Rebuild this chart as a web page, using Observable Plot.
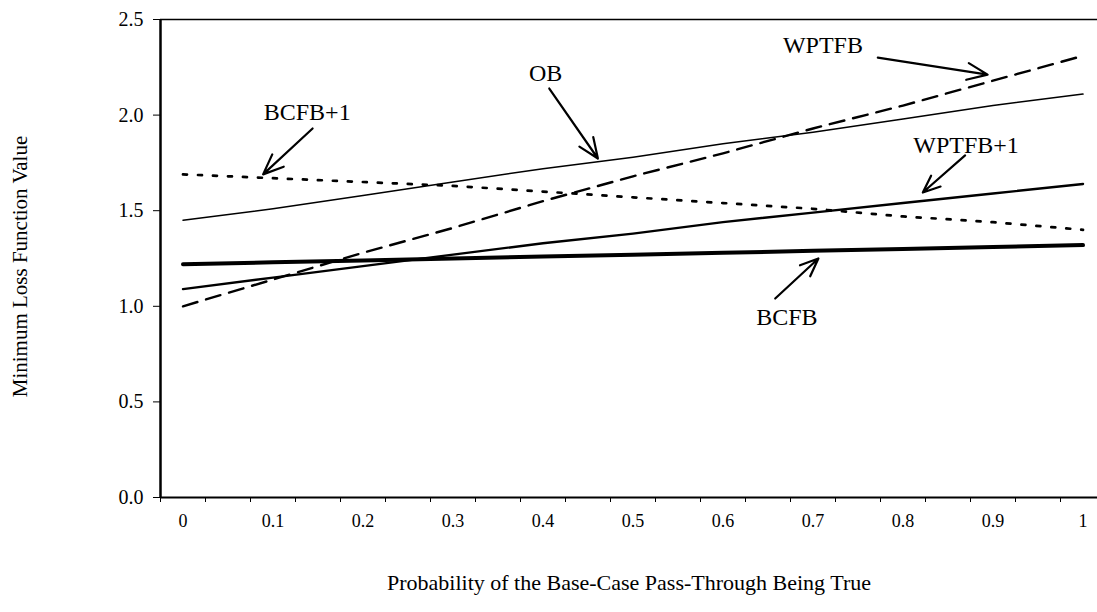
<!DOCTYPE html>
<html>
<head>
<meta charset="utf-8">
<script src="https://cdn.jsdelivr.net/npm/d3@7"></script>
<script src="https://cdn.jsdelivr.net/npm/@observablehq/plot@0.6"></script>
<style>
  html, body { margin: 0; padding: 0; background: white; }
  #chart svg, #chart svg text { font-family: "Liberation Serif", "DejaVu Serif", serif !important; }
</style>
</head>
<body>
<div id="chart"></div>
<script>
// Data
const probabilities = [0, 0.1, 0.2, 0.3, 0.4, 0.5, 0.6, 0.7, 0.8, 0.9, 1];
const OB      = [1.45, 1.51, 1.58, 1.65, 1.72, 1.78, 1.85, 1.91, 1.98, 2.05, 2.11];
const WPTFB   = [1.00, 1.14, 1.28, 1.41, 1.55, 1.68, 1.80, 1.93, 2.05, 2.18, 2.31];
const WPTFB1  = [1.09, 1.15, 1.21, 1.27, 1.33, 1.38, 1.44, 1.49, 1.54, 1.59, 1.64];
const BCFB    = [1.22, 1.23, 1.24, 1.25, 1.26, 1.27, 1.28, 1.29, 1.30, 1.31, 1.32];
const BCFB1   = [1.69, 1.67, 1.65, 1.63, 1.60, 1.57, 1.54, 1.51, 1.47, 1.44, 1.40];

const yTicks = [0, 0.5, 1.0, 1.5, 2.0, 2.5];
const xLabelTicks = [0, 0.1, 0.2, 0.3, 0.4, 0.5, 0.6, 0.7, 0.8, 0.9, 1];
const xTickMarks = [-0.025, 0.025, 0.075, 0.125, 0.175, 0.225, 0.275, 0.325, 0.375, 0.425, 0.475,
                    0.525, 0.575, 0.625, 0.675, 0.725, 0.775, 0.825, 0.875, 0.925, 0.975];

const xTitle = "Probability of the Base-Case Pass-Through Being True";
const yTitle = "Minimum Loss Function Value";

// Annotation labels with arrows (data coordinates)
const annotations = [
  {label: "BCFB+1",   tx: 0.138, ty: 2.014, x1: 0.144, y1: 1.930, x2: 0.089, y2: 1.690},
  {label: "OB",       tx: 0.403, ty: 2.218, x1: 0.407, y1: 2.139, x2: 0.461, y2: 1.773},
  {label: "WPTFB",    tx: 0.711, ty: 2.364, x1: 0.772, y1: 2.301, x2: 0.894, y2: 2.212},
  {label: "WPTFB+1",  tx: 0.870, ty: 1.841, x1: 0.869, y1: 1.789, x2: 0.822, y2: 1.595},
  {label: "BCFB",     tx: 0.671, ty: 0.941, x1: 0.658, y1: 1.041, x2: 0.706, y2: 1.250}
];

const FONT = "Liberation Serif";
const toRows = (vals) => probabilities.map((p, i) => ({x: p, y: vals[i]}));

const chart = Plot.plot({
  width: 1097,
  height: 612,
  marginLeft: 160,
  marginRight: 0,
  marginTop: 19,
  marginBottom: 115,
  x: {domain: [-0.025, 1.0161]},
  y: {domain: [0, 2.5]},
  style: {fontFamily: FONT, color: "black", background: "white"},
  marks: [
    // frame lines
    Plot.ruleY([2.5], {stroke: "black", strokeWidth: 1.5}),
    Plot.ruleX([-0.025], {stroke: "black", strokeWidth: 2.5}),
    Plot.ruleY([0], {stroke: "black", strokeWidth: 2}),
    // axes
    Plot.axisY({ticks: yTicks, tickSize: 7, tickPadding: 10, tickFormat: d => d.toFixed(1), fontSize: 20, fontFamily: FONT, label: null}),
    Plot.axisX({ticks: xTickMarks, tickSize: 5, tickFormat: () => "", label: null}),
    Plot.axisX({ticks: xLabelTicks, tickSize: 0, tickPadding: 17, tickFormat: d => String(d), fontSize: 18, fontFamily: FONT, label: null}),
    // series
    Plot.line(toRows(OB), {x: "x", y: "y", stroke: "black", strokeWidth: 1.5}),
    Plot.line(toRows(WPTFB), {x: "x", y: "y", stroke: "black", strokeWidth: 2.4, strokeDasharray: "15,9"}),
    Plot.line(toRows(WPTFB1), {x: "x", y: "y", stroke: "black", strokeWidth: 2.4}),
    Plot.line(toRows(BCFB), {x: "x", y: "y", stroke: "black", strokeWidth: 4}),
    Plot.line(toRows(BCFB1), {x: "x", y: "y", stroke: "black", strokeWidth: 2.7, strokeDasharray: "4,11"}),
    // annotations
    Plot.arrow(annotations, {x1: "x1", y1: "y1", x2: "x2", y2: "y2", stroke: "black", strokeWidth: 2.2, headLength: 15, headAngle: 45}),
    Plot.text(annotations, {x: "tx", y: "ty", text: "label", fontSize: 24, fontFamily: FONT, fill: "black"}),
    // axis titles
    Plot.text([xTitle], {frameAnchor: "bottom", dy: 85, lineAnchor: "middle", textAnchor: "middle", text: d => d, fontSize: 22, fontFamily: FONT, fill: "black"}),
    Plot.text([yTitle], {frameAnchor: "left", dx: -140, dy: 8, rotate: -90, textAnchor: "middle", lineAnchor: "middle", text: d => d, fontSize: 21, fontFamily: FONT, fill: "black"})
  ]
});

document.getElementById("chart").appendChild(chart);
</script>
</body>
</html>
